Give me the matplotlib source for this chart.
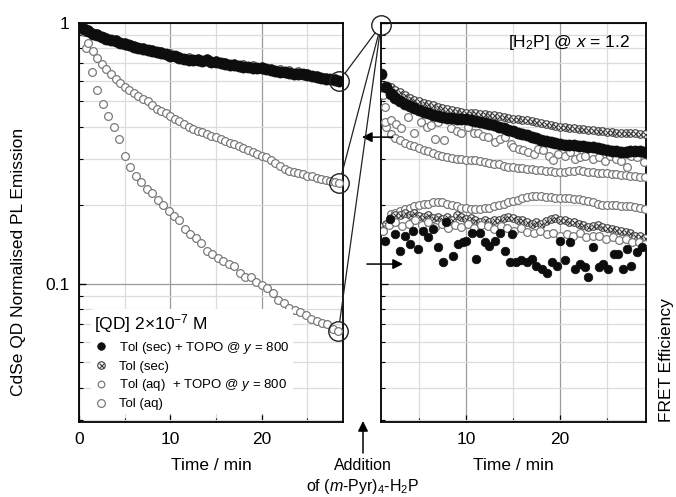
import numpy as np
import matplotlib
matplotlib.use("Agg")
import matplotlib.pyplot as plt
from matplotlib.lines import Line2D
from matplotlib.patches import ConnectionPatch, FancyArrowPatch
from matplotlib.legend_handler import HandlerTuple
from matplotlib.ticker import MultipleLocator, LogLocator, NullFormatter

plt.rcParams['font.family'] = ['Liberation Sans', 'DejaVu Sans']
plt.rcParams['mathtext.fontset'] = 'custom'
plt.rcParams['mathtext.rm'] = 'Liberation Sans'
plt.rcParams['mathtext.it'] = 'Liberation Sans:italic'

# ---------------- data: left panel (before addition) ----------------
t_left_sec_topo = np.arange(0.0, 28.51, 0.5)
v_left_sec_topo = [1.0, 0.95, 0.93, 0.91, 0.90, 0.885, 0.87, 0.86, 0.85, 0.84, 0.83, 0.82,
                   0.81, 0.80, 0.795, 0.79, 0.78, 0.775, 0.765, 0.76, 0.75, 0.745, 0.735,
                   0.725, 0.72, 0.72, 0.72, 0.715, 0.72, 0.71, 0.71, 0.70, 0.695, 0.69,
                   0.69, 0.685, 0.68, 0.68, 0.675, 0.67, 0.67, 0.665, 0.66, 0.655, 0.65,
                   0.648, 0.645, 0.64, 0.64, 0.635, 0.63, 0.625, 0.62, 0.615, 0.61, 0.61,
                   0.605, 0.60]

t_left_sec = np.arange(1.0, 28.01, 1.0)
v_left_sec = [0.945, 0.915, 0.885, 0.865, 0.845, 0.825, 0.81, 0.795, 0.78, 0.765, 0.75,
              0.738, 0.735, 0.733, 0.724, 0.71, 0.704, 0.694, 0.689, 0.684, 0.674, 0.664,
              0.658, 0.652, 0.642, 0.632, 0.622, 0.616]

t_left_aq_topo = np.arange(0.5, 28.51, 0.5)
v_left_aq_topo = [0.92, 0.84, 0.78, 0.735, 0.695, 0.665, 0.635, 0.61, 0.59, 0.57, 0.555,
                  0.54, 0.525, 0.51, 0.50, 0.485, 0.47, 0.46, 0.45, 0.44, 0.43, 0.42, 0.41,
                  0.40, 0.393, 0.387, 0.381, 0.376, 0.37, 0.364, 0.358, 0.353, 0.348, 0.343,
                  0.337, 0.332, 0.326, 0.32, 0.315, 0.31, 0.305, 0.298, 0.29, 0.282, 0.275,
                  0.27, 0.268, 0.265, 0.263, 0.26, 0.258, 0.255, 0.252, 0.25, 0.248, 0.245,
                  0.243]

t_left_aq = np.arange(0.8, 28.41, 0.6)
v_left_aq = [0.80, 0.65, 0.555, 0.49, 0.44, 0.40, 0.36, 0.31, 0.28, 0.26, 0.245, 0.23,
             0.222, 0.21, 0.20, 0.19, 0.182, 0.175, 0.162, 0.155, 0.15, 0.143, 0.134, 0.13,
             0.125, 0.122, 0.119, 0.117, 0.11, 0.106, 0.106, 0.102, 0.099, 0.096, 0.092,
             0.087, 0.084, 0.081, 0.079, 0.078, 0.076, 0.073, 0.072, 0.071, 0.070, 0.067,
             0.066]

# ---------------- data: right panel (after addition) ----------------
t_r_sec_topo = np.arange(1.0, 29.01, 0.5)
v_r_sec_topo = [0.64, 0.57, 0.535, 0.515, 0.50, 0.49, 0.48, 0.472, 0.464, 0.456, 0.45,
                0.445, 0.44, 0.437, 0.434, 0.432, 0.43, 0.43, 0.428, 0.424, 0.42, 0.416,
                0.413, 0.41, 0.405, 0.40, 0.395, 0.39, 0.386, 0.38, 0.375, 0.371, 0.366,
                0.362, 0.357, 0.353, 0.35, 0.347, 0.344, 0.342, 0.341, 0.34, 0.339, 0.337,
                0.336, 0.334, 0.331, 0.328, 0.326, 0.324, 0.322, 0.32, 0.32, 0.322, 0.323,
                0.322, 0.32]

t_r_sec = np.arange(2.0, 29.01, 0.5)
v_r_sec = [0.57, 0.555, 0.545, 0.53, 0.515, 0.507, 0.50, 0.495, 0.49, 0.483, 0.477, 0.472,
           0.467, 0.462, 0.458, 0.455, 0.453, 0.451, 0.45, 0.448, 0.446, 0.444, 0.442, 0.44,
           0.437, 0.433, 0.43, 0.428, 0.426, 0.423, 0.42, 0.416, 0.412, 0.409, 0.405, 0.402,
           0.40, 0.398, 0.396, 0.394, 0.393, 0.391, 0.389, 0.388, 0.386, 0.384, 0.382, 0.381,
           0.379, 0.378, 0.377, 0.377, 0.377, 0.376, 0.375]

t_r_aq_topo = [1.2, 1.35, 1.4, 2.06, 2.6, 3.1, 3.8, 4.5, 5.25, 5.9, 6.3, 6.7, 7.0, 7.7, 8.4,
               9.0, 9.5, 10.2, 10.8, 11.3, 11.8, 12.3, 13.05, 13.6, 14.1, 14.8, 15.0, 15.6,
               16.1, 16.6, 17.2, 17.7, 18.2, 18.8, 19.3, 19.8, 20.5, 21.1, 21.6, 22.1, 22.7,
               23.5, 24.2, 24.8, 25.3, 26.0, 26.5, 27.1, 27.6, 28.2, 28.9]
v_r_aq_topo = [0.528, 0.477, 0.417, 0.424, 0.41, 0.394, 0.436, 0.377, 0.417, 0.40, 0.405,
               0.36, 0.417, 0.355, 0.394, 0.385, 0.377, 0.40, 0.38, 0.377, 0.37, 0.365, 0.349,
               0.36, 0.365, 0.344, 0.334, 0.33, 0.325, 0.32, 0.315, 0.33, 0.325, 0.31, 0.297,
               0.315, 0.31, 0.32, 0.30, 0.306, 0.31, 0.30, 0.305, 0.295, 0.31, 0.30, 0.295,
               0.28, 0.31, 0.306, 0.293]

t_r_aq = np.arange(1.5, 29.01, 0.5)
v_r_aq = [0.40, 0.375, 0.362, 0.355, 0.348, 0.342, 0.337, 0.332, 0.327, 0.322, 0.317, 0.312,
          0.308, 0.305, 0.303, 0.301, 0.30, 0.299, 0.298, 0.297, 0.295, 0.293, 0.291, 0.289,
          0.287, 0.284, 0.281, 0.28, 0.279, 0.278, 0.276, 0.275, 0.274, 0.272, 0.271, 0.27,
          0.269, 0.268, 0.269, 0.27, 0.271, 0.272, 0.27, 0.269, 0.268, 0.267, 0.266, 0.265,
          0.264, 0.263, 0.262, 0.261, 0.259, 0.258, 0.257, 0.256]

# FRET efficiency series (plotted on the same log scale)
t_f_aq = np.arange(2.0, 29.01, 0.5)
v_f_aq = [0.185, 0.187, 0.19, 0.193, 0.196, 0.198, 0.20, 0.202, 0.203, 0.205, 0.206, 0.205,
          0.202, 0.20, 0.198, 0.196, 0.195, 0.194, 0.194, 0.194, 0.195, 0.196, 0.198, 0.20,
          0.203, 0.205, 0.207, 0.21, 0.213, 0.216, 0.218, 0.218, 0.217, 0.216, 0.215, 0.214,
          0.214, 0.213, 0.213, 0.212, 0.212, 0.21, 0.208, 0.206, 0.203, 0.20, 0.20, 0.20,
          0.20, 0.199, 0.198, 0.198, 0.197, 0.196, 0.194]

t_f_sec = np.arange(1.0, 29.01, 0.5)
v_f_sec = [0.165, 0.17, 0.178, 0.183, 0.184, 0.186, 0.183, 0.186, 0.182, 0.18, 0.183, 0.179,
           0.181, 0.177, 0.18, 0.176, 0.183, 0.18, 0.177, 0.178, 0.175, 0.173, 0.176, 0.172,
           0.175, 0.176, 0.178, 0.181, 0.179, 0.176, 0.175, 0.173, 0.17, 0.172, 0.17, 0.174,
           0.177, 0.178, 0.175, 0.176, 0.173, 0.172, 0.17, 0.168, 0.165, 0.167, 0.168, 0.165,
           0.163, 0.162, 0.161, 0.16, 0.158, 0.156, 0.153, 0.152, 0.15]

t_f_aq_topo = [1.2, 1.8, 2.5, 3.2, 3.9, 4.6, 5.3, 6.0, 6.7, 7.4, 8.1, 8.8, 9.5, 10.2, 10.9,
               11.6, 12.3, 13.0, 13.7, 14.4, 15.1, 15.8, 16.5, 17.2, 17.9, 18.6, 19.3, 20.0,
               20.7, 21.4, 22.1, 22.8, 23.5, 24.2, 24.9, 25.6, 26.3, 27.0, 27.7, 28.4, 29.0]
v_f_aq_topo = [0.16, 0.168, 0.172, 0.166, 0.17, 0.175, 0.168, 0.172, 0.165, 0.17, 0.163,
               0.168, 0.165, 0.17, 0.163, 0.168, 0.166, 0.162, 0.167, 0.164, 0.16, 0.163,
               0.158, 0.156, 0.16, 0.155, 0.157, 0.152, 0.155, 0.152, 0.156, 0.151, 0.153,
               0.152, 0.149, 0.151, 0.147, 0.148, 0.145, 0.144, 0.142]

t_f_sec_topo = [1.35, 1.88, 2.41, 2.94, 3.48, 4.01, 4.36, 4.89, 5.43, 5.96, 6.49, 7.02, 7.55,
                7.9, 8.62, 9.15, 9.68, 10.04, 10.6, 11.1, 11.5, 12.0, 12.5, 13.05, 13.6, 14.1,
                14.65, 14.86, 15.35, 15.9, 16.5, 17.0, 17.5, 18.05, 18.6, 19.1, 19.65, 20.0,
                20.5, 21.1, 21.6, 22.1, 22.7, 23.0, 23.5, 24.1, 24.6, 25.1, 25.7, 26.2, 26.7,
                27.1, 27.6, 28.2, 28.7]
v_f_sec_topo = [0.146, 0.177, 0.155, 0.134, 0.153, 0.142, 0.160, 0.136, 0.160, 0.151, 0.162,
                0.138, 0.121, 0.172, 0.128, 0.142, 0.144, 0.146, 0.157, 0.124, 0.157, 0.144,
                0.140, 0.146, 0.157, 0.134, 0.121, 0.155, 0.121, 0.123, 0.121, 0.124, 0.117,
                0.114, 0.110, 0.121, 0.117, 0.146, 0.123, 0.144, 0.114, 0.119, 0.116, 0.106,
                0.138, 0.116, 0.119, 0.114, 0.130, 0.130, 0.114, 0.136, 0.117, 0.132, 0.138]

legend_labels = ['Tol (sec) + TOPO @ $y$ = 800', 'Tol (sec)',
                 'Tol (aq)  + TOPO @ $y$ = 800', 'Tol (aq)']

# ---------------- styles ----------------
GRAY = '#7a7a7a'
DARK = '#3c3c3c'
black_kw = dict(ls='none', marker='o', ms=8.0, mfc='#0d0d0d', mec='#0d0d0d', mew=0.5)
open_kw = dict(ls='none', marker='o', ms=5.6, mfc='white', mec=GRAY, mew=0.9)
hatch_o = dict(ls='none', marker='o', ms=5.4, mfc='white', mec=DARK, mew=0.8)
hatch_x = dict(ls='none', marker='x', ms=3.6, mec=DARK, mew=0.8)

fig = plt.figure(figsize=(6.76, 4.97), dpi=100)
ax1 = fig.add_axes([79/676, 75/497, 264/676, 399/497])
ax2 = fig.add_axes([381/676, 75/497, 265/676, 399/497])

for ax in (ax1, ax2):
    ax.set_yscale('log')
    ax.set_ylim(0.0295, 1.0)
    ax.xaxis.set_major_locator(MultipleLocator(10))
    ax.xaxis.set_minor_locator(MultipleLocator(5))
    ax.yaxis.set_minor_locator(LogLocator(base=10, subs=np.arange(2, 10)))
    ax.yaxis.set_minor_formatter(NullFormatter())
    ax.grid(which='major', color='#9a9a9a', lw=0.9)
    ax.grid(which='minor', color='#dcdcdc', lw=0.9)
    ax.set_axisbelow(True)
    ax.tick_params(which='both', direction='in', labelsize=12.5, pad=7)
    ax.tick_params(which='major', length=5, width=0.9)
    ax.tick_params(which='minor', length=3, width=0.8)
    for s in ax.spines.values():
        s.set_linewidth(1.3)
    ax.set_xlabel('Time / min', fontsize=12.5, labelpad=8)

ax1.set_xlim(0, 28.9)
ax2.set_xlim(0.96, 29.15)
ax1.set_yticks([0.1, 1], ['0.1', '1'])
ax2.set_yticks([0.1, 1], ['', ''])
ax1.set_xticks([0, 10, 20])
ax2.set_xticks([10, 20])

# left panel
ax1.plot(t_left_aq, v_left_aq, **open_kw, zorder=3)
ax1.plot(t_left_aq_topo, v_left_aq_topo, **open_kw, zorder=3)
ax1.plot(t_left_sec, v_left_sec, **hatch_o, zorder=3)
ax1.plot(t_left_sec, v_left_sec, **hatch_x, zorder=3)
ax1.plot(t_left_sec_topo, v_left_sec_topo, **black_kw, zorder=4)

# right panel
ax2.plot(t_r_aq, v_r_aq, **open_kw, zorder=3)
ax2.plot(t_r_aq_topo, v_r_aq_topo, **open_kw, zorder=3)
ax2.plot(t_r_sec, v_r_sec, **hatch_o, zorder=3)
ax2.plot(t_r_sec, v_r_sec, **hatch_x, zorder=3)
ax2.plot(t_r_sec_topo, v_r_sec_topo, **black_kw, zorder=4)
ax2.plot(t_f_aq, v_f_aq, **open_kw, zorder=3)
ax2.plot(t_f_sec, v_f_sec, **hatch_o, zorder=3)
ax2.plot(t_f_sec, v_f_sec, **hatch_x, zorder=3)
ax2.plot(t_f_aq_topo, v_f_aq_topo, **open_kw, zorder=3)
ax2.plot(t_f_sec_topo, v_f_sec_topo, **dict(black_kw, ms=6.2), zorder=4)

# legend
h_black = Line2D([], [], **dict(black_kw, ms=5.5))
h_hatch = (Line2D([], [], **hatch_o), Line2D([], [], **hatch_x))
h_open_s = Line2D([], [], **dict(open_kw, ms=4.8))
h_open = Line2D([], [], **open_kw)
leg = ax1.legend([h_black, h_hatch, h_open_s, h_open], legend_labels,
                 handler_map={tuple: HandlerTuple(ndivide=1, pad=0)},
                 loc='upper left', bbox_to_anchor=(0.045, 0.283), fontsize=9.5,
                 title='[QD] 2×10$^{\\mathrm{-7}}$ M', title_fontsize=12.5,
                 alignment='left', frameon=True, facecolor='white', edgecolor='none',
                 framealpha=1.0, borderpad=0.25, handlelength=1.0, handletextpad=0.9,
                 labelspacing=0.35, borderaxespad=0)
leg.set_zorder(5)

# annotation text
ax2.text(0.94, 0.95, '[H$_2$P] @ $x$ = 1.2', transform=ax2.transAxes,
         ha='right', va='center', fontsize=12.5)

fig.text(19/676, 1 - 262/497, 'CdSe QD Normalised PL Emission', rotation=90,
         ha='center', va='center', fontsize=12.5)
fig.text(667/676, 1 - 422/497, 'FRET Efficiency', rotation=90,
         ha='center', va='bottom', fontsize=12.5)

# circles around endpoints and connecting lines
ends = [(t_left_sec_topo[-1], v_left_sec_topo[-1]),
        (t_left_aq_topo[-1], v_left_aq_topo[-1]),
        (t_left_aq[-1], v_left_aq[-1])]
for (tx, vy) in ends:
    ax1.plot([tx], [vy], ls='none', marker='o', ms=14, mfc='none', mec='#222222',
             mew=1.0, clip_on=False, zorder=6)
    con = ConnectionPatch(xyA=(tx, vy), coordsA=ax1.transData,
                          xyB=(0.0, 0.995), coordsB=ax2.transAxes,
                          color='#222222', lw=0.9, shrinkA=7, shrinkB=7)
    fig.add_artist(con)
ax2.plot([0.0], [0.995], ls='none', marker='o', ms=14, mfc='none', mec='#222222',
         mew=1.0, clip_on=False, zorder=6, transform=ax2.transAxes)

arrow_kw = dict(arrowstyle='-|>', color='black', lw=1.1, mutation_scale=15,
                shrinkA=0, shrinkB=0)
ax2.annotate('', xy=(-0.072, 0.365), xycoords=('axes fraction', 'data'),
             xytext=(0.045, 0.365), textcoords=('axes fraction', 'data'),
             arrowprops=arrow_kw, annotation_clip=False)
ax2.annotate('', xy=(0.083, 0.119), xycoords=('axes fraction', 'data'),
             xytext=(-0.053, 0.119), textcoords=('axes fraction', 'data'),
             arrowprops=arrow_kw, annotation_clip=False)
fig.add_artist(FancyArrowPatch(
    (363/676, 1 - 453/497), (363/676, 1 - 421/497), transform=fig.transFigure,
    **arrow_kw))
fig.text(363/676, 1 - 466/497, 'Addition', ha='center', va='center', fontsize=11.5)
fig.text(363/676, 1 - 487/497, 'of ($m$-Pyr)$_4$-H$_2$P', ha='center', va='center',
         fontsize=11.5)

fig.savefig('out.png', dpi=100)
